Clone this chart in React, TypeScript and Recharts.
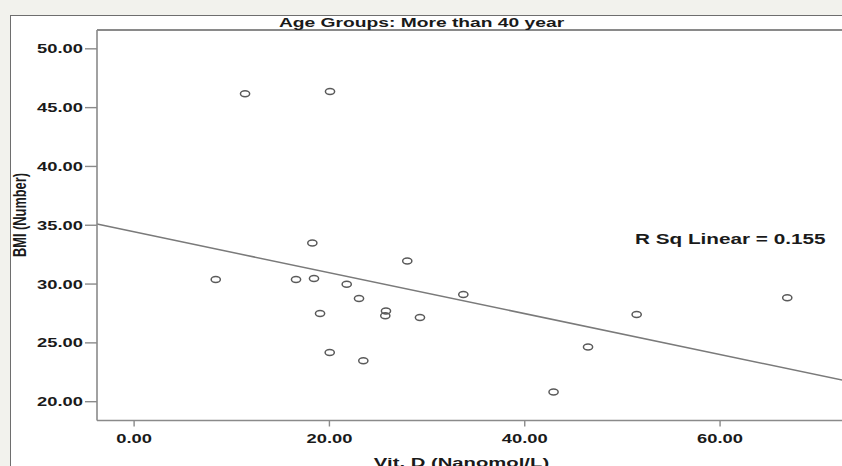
import React from 'react'
import { ScatterChart, Scatter, XAxis, YAxis, ReferenceLine } from 'recharts'

// Vit. D (Nanomol/L) vs BMI, age group > 40
const vitD = [8.36, 11.36, 20.06, 18.25, 16.58, 18.42, 21.77, 19.04, 23.03, 27.97, 25.79, 25.72, 29.27, 20.03, 23.47, 33.71, 42.95, 46.48, 51.46, 66.88]
const bmi = [30.39, 46.18, 46.38, 33.5, 30.39, 30.48, 29.99, 27.5, 28.78, 31.97, 27.7, 27.3, 27.16, 24.19, 23.48, 29.12, 20.82, 24.64, 27.42, 28.83]

// fit line end points
const fitX = [-3.8, 73.1]
const fitY = [35.1, 21.73]

const xTicks = [0, 20, 40, 60]
const yTicks = [20, 25, 30, 35, 40, 45, 50]
const xDomain = [-3.8, 73.1]
const yDomain = [18.4, 51.6]

const points = vitD.map((x, i) => ({ x, y: bmi[i] }))

const STRETCH = 1.48
const FONT = 'Liberation Sans, Arial, sans-serif'
const AXIS = '#8a8a8a'

function Stretch({ x, y, anchor = 'middle', size, bold = true, rotate = false, children }: any) {
  const t = `translate(${x} ${y}) scale(${STRETCH} 1)${rotate ? ' rotate(-90)' : ''}`
  return (
    <text
      transform={t}
      textAnchor={anchor}
      fontFamily={FONT}
      fontSize={size}
      fontWeight={bold ? 700 : 400}
      fill="#1a1a1a"
    >
      {children}
    </text>
  )
}

const XTick = ({ x, payload }: any) => (
  <Stretch x={x} y={443} size={12.4}>
    {Number(payload.value).toFixed(2)}
  </Stretch>
)

const YTick = ({ y, payload }: any) => (
  <Stretch x={83} y={y + 4.5} anchor="end" size={12.4}>
    {Number(payload.value).toFixed(2)}
  </Stretch>
)

const Dot = ({ cx, cy }: any) => (
  <ellipse cx={cx} cy={cy} rx={4.6} ry={3} fill="none" stroke="#5a5a5a" strokeWidth={1.5} />
)

export default function App() {
  return (
    <div
      style={{
        position: 'fixed',
        left: 0,
        top: 0,
        width: 842,
        height: 466,
        overflow: 'hidden',
        background: '#f2f2ed',
      }}
    >
      <div
        style={{
          position: 'absolute',
          left: 10,
          top: 15,
          width: 860,
          height: 480,
          background: '#fff',
          borderTop: '1px solid #6e6e6e',
          borderLeft: '1px solid #6e6e6e',
        }}
      />
      <div style={{ position: 'absolute', left: 0, top: 0 }}>
        <ScatterChart width={850} height={466} margin={{ top: 30, right: 2, bottom: 0, left: 0 }}>
          <XAxis
            type="number"
            dataKey="x"
            domain={xDomain}
            ticks={xTicks}
            allowDataOverflow
            height={45.5}
            tickSize={6}
            tick={<XTick />}
            axisLine={{ stroke: AXIS, strokeWidth: 1.6 }}
            tickLine={{ stroke: AXIS, strokeWidth: 1.4 }}
          />
          <YAxis
            type="number"
            dataKey="y"
            domain={yDomain}
            ticks={yTicks}
            allowDataOverflow
            width={97}
            tickSize={12}
            tick={<YTick />}
            axisLine={{ stroke: AXIS, strokeWidth: 1.6 }}
            tickLine={{ stroke: AXIS, strokeWidth: 1.4 }}
          />
          <ReferenceLine y={yDomain[1]} stroke={AXIS} strokeWidth={2} ifOverflow="visible" />
          <ReferenceLine
            segment={[
              { x: fitX[0], y: fitY[0] },
              { x: fitX[1], y: fitY[1] },
            ]}
            stroke="#7a7a7a"
            strokeWidth={1.5}
            ifOverflow="visible"
          />
          <Scatter data={points} shape={<Dot />} isAnimationActive={false} />
        </ScatterChart>
      </div>
      <svg
        width={842}
        height={466}
        style={{ position: 'absolute', left: 0, top: 0, pointerEvents: 'none' }}
      >
        <Stretch x={421.5} y={26.5} size={13}>
          Age Groups: More than 40 year
        </Stretch>
        <Stretch x={635} y={244} anchor="start" size={14}>
          R Sq Linear = 0.155
        </Stretch>
        <Stretch x={26} y={215} size={12.8} rotate>
          BMI (Number)
        </Stretch>
        <Stretch x={461.5} y={467} size={13.7}>
          Vit. D (Nanomol/L)
        </Stretch>
      </svg>
    </div>
  )
}
